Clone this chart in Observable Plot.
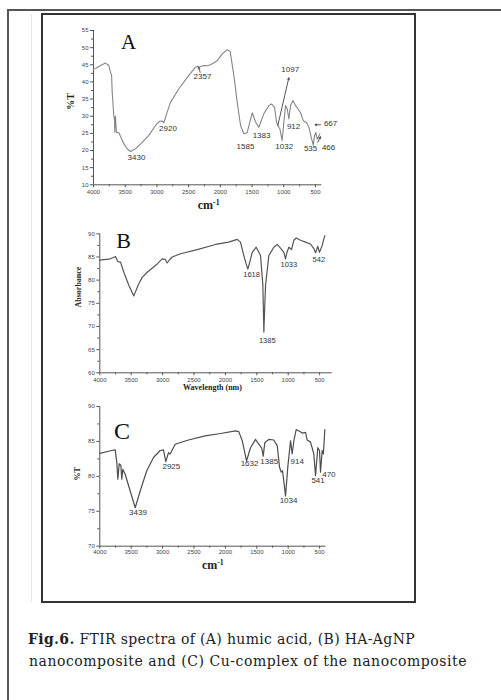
<!DOCTYPE html>
<html><head><meta charset="utf-8">
<script src="https://cdn.jsdelivr.net/npm/d3@7"></script>
<script src="https://cdn.jsdelivr.net/npm/@observablehq/plot@0.6"></script>
<style>
html,body{margin:0;padding:0;background:#fff;}
#page{position:relative;width:501px;height:700px;overflow:hidden;background:#fff;}
.abs{position:absolute;}
.cap{position:absolute;white-space:nowrap;font-family:"DejaVu Serif",serif;font-size:14px;line-height:16px;color:#222;}
</style></head>
<body><div id="page">
<div class="abs" style="left:7px;top:9px;width:494px;height:2px;background:#555;"></div>
<div class="abs" style="left:7px;top:9px;width:2px;height:691px;background:#555;"></div>
<div class="abs" style="left:31px;top:14px;width:1px;height:588px;background:#e4e4e4;"></div>
<div class="abs" style="left:41px;top:13px;width:375px;height:590px;border:2px solid #333;box-sizing:border-box;"></div>
<div id="pA" class="abs" style="left:0;top:22px;"></div>
<div id="pB" class="abs" style="left:0;top:222px;"></div>
<div id="pC" class="abs" style="left:0;top:400px;"></div>
<div class="cap" id="cap1" style="left:28px;top:631px;"><b>Fig.6.</b> FTIR spectra of (A) humic acid, (B) HA-AgNP</div>
<div class="cap" id="cap2" style="left:29px;top:653px;">nanocomposite and (C) Cu-complex of the nanocomposite</div>
</div>
<script>
// ---------- Data ----------
const xTicks = [4000, 3500, 3000, 2500, 2000, 1500, 1000, 500];
const xMinor = [3750, 3250, 2750, 2250, 1750, 1250, 750];

// Panel A: humic acid (%T)
const waveA = [4000, 3968, 3890, 3811, 3759, 3732, 3715, 3705, 3680, 3668, 3664, 3658, 3653, 3645, 3637, 3600, 3522, 3470, 3416, 3338, 3232, 3128, 3022, 2960, 2920, 2891, 2847, 2785, 2654, 2497, 2392, 2357, 2340, 2260, 2207, 2155, 2049, 1970, 1891, 1845, 1787, 1734, 1681, 1629, 1577, 1497, 1445, 1393, 1314, 1235, 1193, 1145, 1114, 1093, 1061, 1025, 998, 972, 946, 919, 893, 856, 814, 777, 735, 693, 667, 640, 604, 567, 535, 514, 494, 472, 446, 430];
const pctA = [43.8, 43.9, 44.8, 45.5, 44.8, 42.8, 42, 37, 30.2, 29, 25.3, 29.5, 30, 27, 25.3, 25.2, 22, 20.5, 19.7, 20.5, 22.4, 24.4, 27.3, 28.5, 28.6, 28.1, 30.7, 34.1, 38, 41.9, 44.3, 44.6, 44.3, 44.8, 44.7, 45, 46.2, 48.2, 49.4, 48.9, 41.9, 34.1, 27.3, 24.9, 25.2, 31, 28.3, 26.8, 30.7, 33.1, 33.6, 32.6, 28.3, 27.3, 26.3, 22.9, 28.3, 33.1, 32.2, 29.2, 33.1, 34.6, 33.1, 32.2, 31, 28.7, 28.4, 28.1, 26.8, 23.9, 21.5, 24.4, 25.3, 23.3, 24.2, 24.9];
const yTicksA = [10, 15, 20, 25, 30, 35, 40, 45, 50, 55];
const yMinorA = [12.5, 17.5, 22.5, 27.5, 32.5, 37.5, 42.5, 47.5, 52.5];
const peakTextA = ["3430", "2920", "2357", "1585", "1383", "1097", "1032", "912", "667", "535", "466"];
const peakXA = [3322, 2825, 2281, 1603, 1350, 898, 992, 845, 262, 577, 293];
const peakYA = [18.0, 26.4, 41.6, 21.1, 24.3, 43.7, 21.1, 27.0, 27.9, 20.6, 21.0];
// annotation arrows in A: [x1, y1, x2, y2]
const arrowX1A = [1093, 2318, 420, 463];
const arrowY1A = [27.3, 42.8, 27.5, 22.4];
const arrowX2A = [920, 2342, 506, 420];
const arrowY2A = [41.2, 44.3, 27.5, 24.0];

// Panel B: HA-AgNP nanocomposite (Absorbance)
const waveB = [4000, 3900, 3830, 3750, 3713, 3670, 3618, 3538, 3459, 3379, 3325, 3245, 3086, 3006, 2960, 2927, 2890, 2847, 2715, 2449, 2158, 1950, 1812, 1760, 1707, 1670, 1643, 1610, 1573, 1510, 1441, 1404, 1388, 1375, 1361, 1309, 1229, 1175, 1123, 1070, 1043, 1020, 990, 948, 911, 873, 804, 725, 645, 592, 565, 529, 502, 459, 433, 417];
const absB = [84.3, 84.5, 84.6, 85.1, 84.0, 83.9, 81.7, 78.9, 76.6, 79.2, 80.6, 81.7, 83.5, 84.6, 84.5, 83.7, 84.4, 85.0, 85.7, 86.6, 87.7, 88.2, 88.8, 88.2, 85.3, 83.5, 82.4, 84, 86.0, 87.1, 85.3, 78.9, 68.8, 74, 78.9, 85.3, 87.1, 87.7, 86.9, 86.0, 84.6, 86, 87.1, 86.6, 88.6, 89.1, 88.6, 88.2, 87.8, 86.8, 85.9, 87.3, 86.0, 87.5, 88.9, 89.6];
const yTicksB = [60, 65, 70, 75, 80, 85, 90];
const yMinorB = [62.5, 67.5, 72.5, 77.5, 82.5, 87.5];
const peakTextB = ["1618", "1385", "1033", "542"];
const peakXB = [1584, 1334, 990, 513];
const peakYB = [81.1, 66.9, 83.4, 84.5];

// Panel C: Cu-complex of the nanocomposite (%T)
const waveC = [4000, 3809, 3755, 3729, 3713, 3691, 3665, 3650, 3634, 3596, 3516, 3436, 3357, 3252, 3145, 3038, 2986, 2949, 2906, 2880, 2800, 2588, 2322, 2100, 1839, 1787, 1732, 1664, 1600, 1521, 1468, 1420, 1398, 1373, 1309, 1229, 1175, 1138, 1112, 1090, 1043, 1007, 963, 937, 910, 873, 830, 777, 724, 698, 645, 592, 565, 529, 502, 486, 459, 440, 417];
const pctC = [83.3, 83.7, 83.8, 82.0, 79.6, 81.8, 81.6, 79.6, 81.0, 80.3, 77.9, 75.5, 77.9, 80.8, 82.7, 83.7, 83.8, 82.1, 83.4, 83.2, 84.6, 85.2, 85.8, 86.1, 86.5, 86.4, 85.1, 82.2, 84.1, 85.3, 84.6, 84.0, 82.9, 84.8, 85.3, 85.2, 84.4, 81.3, 80.6, 80.8, 77.2, 81.3, 85.1, 83.2, 85.1, 86.7, 86.5, 86.2, 86.3, 85.2, 84.9, 83.2, 80.1, 84.1, 83.7, 80.6, 83.7, 83.2, 86.7];
const yTicksC = [70, 75, 80, 85, 90];
const yMinorC = [72.5, 77.5, 82.5, 87.5];
const peakTextC = ["3439", "2925", "1632", "1385", "914", "1034", "541", "470"];
const peakXC = [3392, 2861, 1616, 1303, 857, 995, 525, 353];
const peakYC = [74.9, 81.4, 81.8, 82.2, 82.2, 76.6, 79.4, 80.3];

// ---------- Drawing ----------
const SANS = "Liberation Sans, Arial, sans-serif";
const SERIF = "Liberation Serif, Times New Roman, serif";
const AXIS = "#555";

function panel(c) {
  const rows = c.wave.map((w, i) => ({w, v: c.vals[i]}));
  const labs = c.labText.map((t, i) => ({t, x: c.labX[i], y: c.labY[i]}));
  const marks = [
    Plot.ruleX([c.xDomain[0]], {stroke: AXIS, strokeWidth: 1}),
    Plot.ruleY([c.yDomain[0]], {stroke: AXIS, strokeWidth: 1}),
    Plot.axisX({ticks: xTicks, tickSize: 3, tickPadding: c.xPad, tickFormat: d => String(d), label: null, stroke: AXIS}),
    Plot.axisX({ticks: xMinor, tickSize: 2, tickFormat: () => "", label: null, stroke: AXIS}),
    Plot.axisY({ticks: c.yTicks, tickSize: 3, tickPadding: 2, tickFormat: d => String(d), label: null, stroke: AXIS}),
    Plot.axisY({ticks: c.yMinor, tickSize: 2, tickFormat: () => "", label: null, stroke: AXIS}),
    Plot.line(rows, {x: "w", y: "v", stroke: c.color, strokeWidth: c.sw, curve: "linear"}),
    Plot.text(labs, {x: "x", y: "y", text: "t", fontSize: c.labSize, fill: "#333", fontFamily: SANS}),
    Plot.text([c.letter], {x: c.letterX, y: c.letterY, text: d => d, fontSize: c.letterSize, fontFamily: SERIF, fill: "#111"}),
    Plot.text([c.xTitle], {frameAnchor: "bottom", dx: c.xtDx, dy: c.xtDy, text: d => d, fontSize: c.xtSize, fontWeight: "bold", fontFamily: SERIF, fill: "#222"}),
    Plot.text([c.yTitle], {frameAnchor: "left", dx: c.ytDx, dy: c.ytDy, rotate: -90, text: d => d, fontSize: c.ytSize, fontWeight: "bold", fontFamily: SERIF, fill: "#222"})
  ];
  if (c.arrows) {
    const arr = c.arrows.x1.map((x1, i) => ({x1, y1: c.arrows.y1[i], x2: c.arrows.x2[i], y2: c.arrows.y2[i]}));
    marks.push(Plot.arrow(arr, {x1: "x1", y1: "y1", x2: "x2", y2: "y2", stroke: "#444", strokeWidth: 0.9, headLength: 3.5}));
  }
  const svg = Plot.plot({
    width: 501, height: c.height,
    marginLeft: c.mL, marginRight: c.mR, marginTop: c.mT, marginBottom: c.mB,
    x: {domain: c.xDomain, label: null},
    y: {domain: c.yDomain, label: null},
    style: {background: "transparent", fontFamily: SANS, fontSize: "6px", color: "#444", overflow: "visible"},
    marks
  });
  // superscript for cm-1
  svg.querySelectorAll("text").forEach(t => {
    if (t.textContent === "cm-1") {
      t.textContent = "cm";
      const ts = document.createElementNS("http://www.w3.org/2000/svg", "tspan");
      ts.setAttribute("dy", "-0.45em");
      ts.setAttribute("font-size", "0.65em");
      ts.textContent = "-1";
      t.appendChild(ts);
    }
  });
  document.getElementById(c.target).appendChild(svg);
}

panel({
  target: "pA", wave: waveA, vals: pctA, color: "#858585", sw: 1.1,
  xDomain: [4000, 400], yDomain: [10, 55], yTicks: yTicksA, yMinor: yMinorA, xPad: 2,
  height: 196, mL: 93, mR: 179.7, mT: 8, mB: 33.7,
  labText: peakTextA, labX: peakXA, labY: peakYA, labSize: 8,
  letter: "A", letterX: 3448, letterY: 51.6, letterSize: 21,
  xTitle: "cm-1", xtDx: 1, xtDy: 23.7, xtSize: 12,
  yTitle: "%T", ytDx: -23, ytDy: 2, ytSize: 10,
  arrows: {x1: arrowX1A, y1: arrowY1A, x2: arrowX2A, y2: arrowY2A}
});
panel({
  target: "pB", wave: waveB, vals: absB, color: "#555", sw: 1.2,
  xDomain: [4000, 300], yDomain: [60, 90], yTicks: yTicksB, yMinor: yMinorB, xPad: 1.5,
  height: 176, mL: 99.3, mR: 169.3, mT: 11.3, mB: 25.7,
  labText: peakTextB, labX: peakXB, labY: peakYB, labSize: 7.5,
  letter: "B", letterX: 3623, letterY: 88.55, letterSize: 22,
  xTitle: "Wavelength (nm)", xtDx: -3.5, xtDy: 17.2, xtSize: 8,
  yTitle: "Absorbance", ytDx: -21.3, ytDy: 4.2, ytSize: 8
});
panel({
  target: "pC", wave: waveC, vals: pctC, color: "#4d4d4d", sw: 1.2,
  xDomain: [4000, 400], yDomain: [70, 90], yTicks: yTicksC, yMinor: yMinorC, xPad: 1,
  height: 180, mL: 99.3, mR: 175.6, mT: 6, mB: 34.3,
  labText: peakTextC, labX: peakXC, labY: peakYC, labSize: 8,
  letter: "C", letterX: 3646, letterY: 86.4, letterSize: 24,
  xTitle: "cm-1", xtDx: 0, xtDy: 22.3, xtSize: 12,
  yTitle: "%T", ytDx: -22.8, ytDy: 4.1, ytSize: 8
});

// fit caption lines to the reference widths
[["cap1", 387], ["cap2", 438]].forEach(([id, target]) => {
  const el = document.getElementById(id);
  const w = el.getBoundingClientRect().width;
  const n = el.textContent.length;
  el.style.letterSpacing = ((target - w) / n) + "px";
});
</script>
</body></html>
